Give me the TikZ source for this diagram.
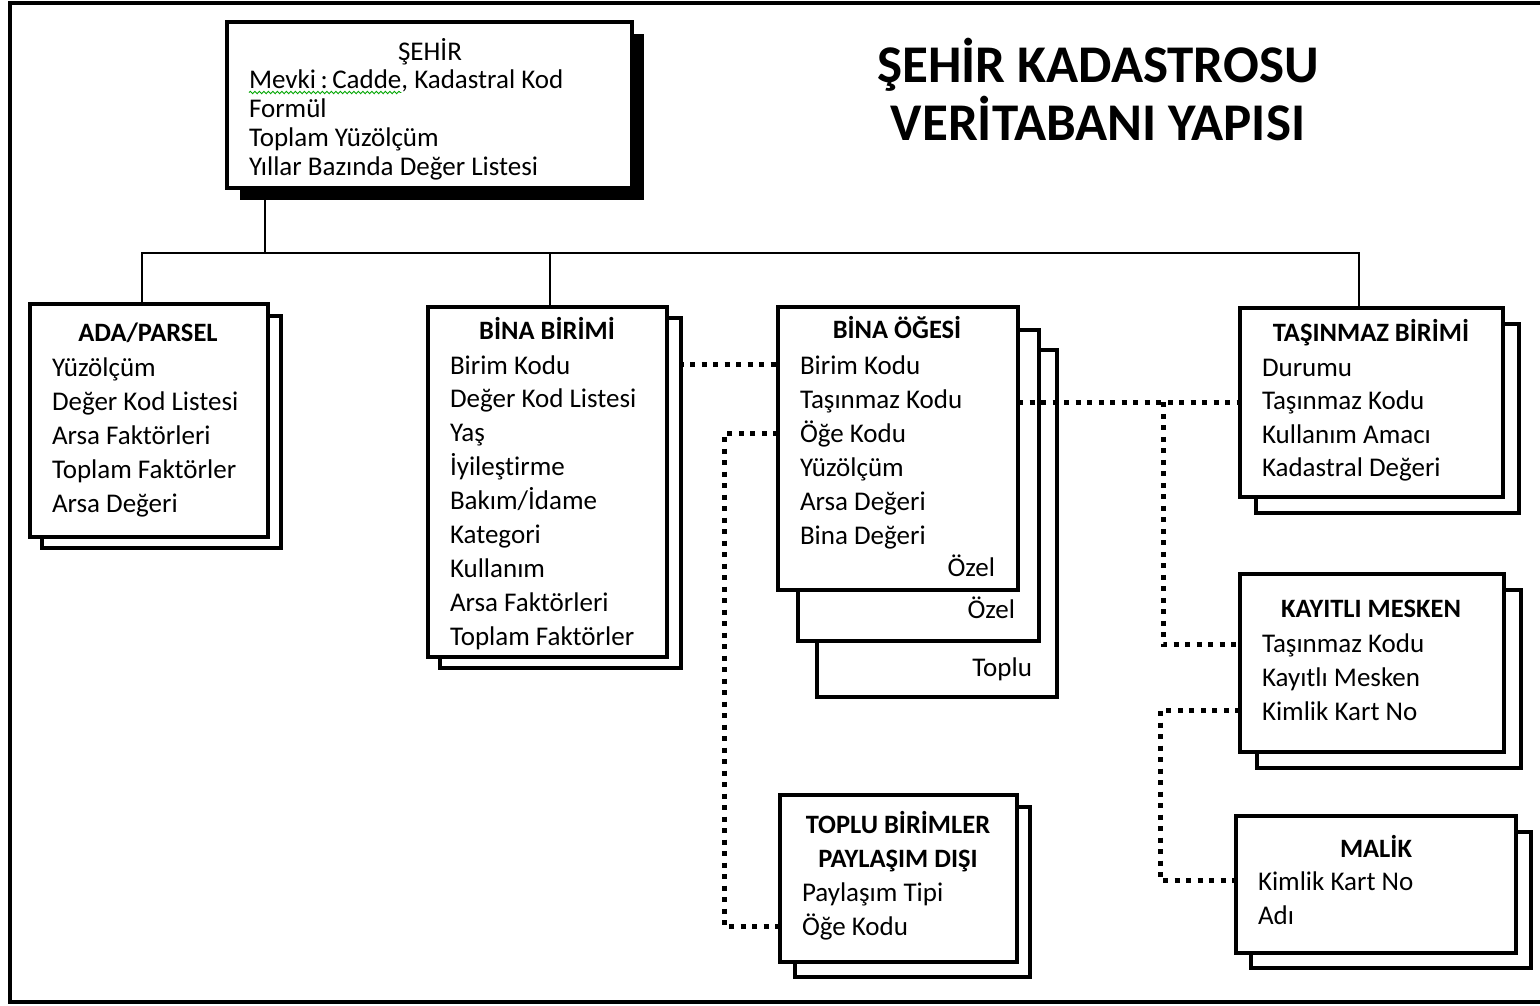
\documentclass[tikz,border=0pt]{standalone}
\usepackage{fontspec}
\setmainfont[Ligatures=NoCommon]{Carlito}
\frenchspacing
\usetikzlibrary{calc,decorations.pathmorphing}
\pgfdeclarelayer{links}
\pgfdeclarelayer{sheets}
\pgfdeclarelayer{overs}
\pgfsetlayers{links,sheets,overs,main}

\begin{document}
\begin{tikzpicture}[x=1pt,y=-1pt,
  box/.style={draw, line width=4pt, fill=white, inner sep=0pt, outer sep=0pt, anchor=north west},
  sheet/.style={draw, line width=4pt, fill=white},
  item/.style={anchor=base west, inner sep=0pt, outer sep=0pt, font=\fontsize{27}{31}\selectfont},
  head/.style={anchor=base, inner sep=0pt, outer sep=0pt, font=\bfseries\fontsize{26.5}{31}\selectfont},
  tag/.style={anchor=base east, inner sep=0pt, outer sep=0pt, font=\fontsize{27}{31}\selectfont},
  tree/.style={line width=2.6pt, line cap=rect},
  dots/.style={line width=5pt, dash pattern=on 5pt off 6.5pt},
]
\useasboundingbox (0,0) rectangle (1540,1005);
\clip (0,0) rectangle (1540,1005);

% outer frame
\draw[line width=3.5pt] (10,3) rectangle (1590,1002);

% title
\node[anchor=base, font=\bfseries\fontsize{53}{60}\selectfont] (title1) at (1098,82) {ŞEHİR KADASTROSU};
\node[anchor=base, font=\bfseries\fontsize{53}{60}\selectfont] (title2) at (1098,140) {VERİTABANI YAPISI};

% city box
\node[box, minimum width=405pt, minimum height=166pt] (sehir) at (227,22) {};
\node[head, font=\fontsize{27}{31}\selectfont] (sehir-h) at (430,60) {ŞEHİR};
\node[item] (sehir-0a) at (249,88) {Mevki\,:\,Cadde};
\node[item] (sehir-0b) at (sehir-0a.base east) {, Kadastral Kod};
\foreach \txt [count=\i] in {Formül, Toplam Yüzölçüm, Yıllar Bazında Değer Listesi}
  \node[item] (sehir-\i) at (249,{88+29.3*\i}) {\txt};
\draw[green!65!black, line width=0.9pt, decorate,
      decoration={snake, amplitude=1.2pt, segment length=4.5pt}]
  ([yshift=-4.5pt]sehir-0a.base west) -- ([yshift=-4.5pt]sehir-0a.base east);

% parcel
\node[box, minimum width=238pt, minimum height=233pt] (ada) at (30,304) {};
\node[head] (ada-h) at (148,341) {ADA/PARSEL};
\foreach \txt [count=\i from 0] in {Yüzölçüm, Değer Kod Listesi, Arsa Faktörleri, Toplam Faktörler, Arsa Değeri}
  \node[item] (ada-\i) at (52,{376+34*\i}) {\txt};

% building unit
\node[box, minimum width=239pt, minimum height=350pt] (bb) at (428,307) {};
\node[head] (bb-h) at (547,339) {BİNA BİRİMİ};
\foreach \txt [count=\i from 0] in {Birim Kodu, Değer Kod Listesi, Yaş, İyileştirme, Bakım/İdame, Kategori, Kullanım, Arsa Faktörleri, Toplam Faktörler}
  \node[item] (bb-\i) at (450,{374+33.9*\i}) {\txt};

% building element
\node[box, minimum width=240pt, minimum height=283pt] (boe) at (778,307) {};
\node[head] (boe-h) at (897,338) {BİNA ÖĞESİ};
\foreach \txt [count=\i from 0] in {Birim Kodu, Taşınmaz Kodu, Öğe Kodu, Yüzölçüm, Arsa Değeri, Bina Değeri}
  \node[item] (boe-\i) at (800,{374+34*\i}) {\txt};
\node[tag] (boe-t0) at (995,576) {Özel};
\node[tag] (boe-t1) at (1015,618) {Özel};
\node[tag] (boe-t2) at (1032,676) {Toplu};

% property unit
\node[box, minimum width=263pt, minimum height=189pt] (tb) at (1240,308) {};
\node[head] (tb-h) at (1371,341) {TAŞINMAZ BİRİMİ};
\foreach \txt [count=\i from 0] in {Durumu, Taşınmaz Kodu, Kullanım Amacı, Kadastral Değeri}
  \node[item] (tb-\i) at (1262,{376+33.5*\i}) {\txt};

% registered residence
\node[box, minimum width=264pt, minimum height=178pt] (km) at (1240,574) {};
\node[head] (km-h) at (1371,617) {KAYITLI MESKEN};
\foreach \txt [count=\i from 0] in {Taşınmaz Kodu, Kayıtlı Mesken, Kimlik Kart No}
  \node[item] (km-\i) at (1262,{652+34*\i}) {\txt};

% owner
\node[box, minimum width=280pt, minimum height=137pt] (ml) at (1236,816) {};
\node[head] (ml-h) at (1376,857) {MALİK};
\foreach \txt [count=\i from 0] in {Kimlik Kart No, Adı}
  \node[item] (ml-\i) at (1258,{890+34*\i}) {\txt};

% shared units
\node[box, minimum width=237pt, minimum height=167pt] (tp) at (780,795) {};
\node[head] (tp-h1) at (898,833) {TOPLU BİRİMLER};
\node[head] (tp-h2) at (898,867) {PAYLAŞIM DIŞI};
\foreach \txt [count=\i from 0] in {Paylaşım Tipi, Öğe Kodu}
  \node[item] (tp-\i) at (802,{901+34*\i}) {\txt};

% stacked sheets and shadow behind the boxes
\begin{pgfonlayer}{sheets}
  \fill ($(sehir.north west)+(13,12)$) rectangle ($(sehir.south east)+(12,12)$);
  \draw[sheet] ($(ada.north west)+(12,12)$) rectangle ($(ada.south east)+(13,11)$);
  \draw[sheet] ($(bb.north west)+(12,11)$) rectangle ($(bb.south east)+(14,11)$);
  \draw[sheet] ($(boe.north west)+(39,43)$) rectangle ($(boe.south east)+(39,107)$);
  \draw[sheet] ($(boe.north west)+(20,23)$) rectangle ($(boe.south east)+(21,51)$);
  \draw[sheet] ($(tb.north west)+(16,16)$) rectangle ($(tb.south east)+(16,16)$);
  \draw[sheet] ($(km.north west)+(17,16)$) rectangle ($(km.south east)+(17,16)$);
  \draw[sheet] ($(ml.north west)+(15,16)$) rectangle ($(ml.south east)+(15,15)$);
  \draw[sheet] ($(tp.north west)+(15,12)$) rectangle ($(tp.south east)+(13,15)$);
\end{pgfonlayer}

% hierarchy
\coordinate (hub) at (265,253);
\coordinate (hubL) at (142,253);
\coordinate (hubB) at (550,253);
\coordinate (hubR) at (1359,253);
% dotted link corners
\coordinate (cTB) at (1163,0);
\coordinate (cKM) at (1160,0);
\coordinate (cTP) at (724,0);

\begin{pgfonlayer}{links}
  \draw[tree] (hub |- sehir.south) -- (hub);
  \draw[tree] (hubL) -- (hubR);
  \draw[tree] (hubL) -- (hubL |- ada.north);
  \draw[tree] (hubB) -- (hubB |- bb.north);
  \draw[tree] (hubR) -- (hubR |- tb.north);
  \draw[dots] (bb.east |- boe-0.west) -- (boe.west |- boe-0.west);
  \draw[dots] (boe.west |- boe-2.west) -- (cTP |- boe-2.west) -- (cTP |- tp-1.west) -- (tp.west |- tp-1.west);
  \draw[dots] (km.west |- km-2.west) -- (cKM |- km-2.west) -- (cKM |- ml-0.west) -- (ml.west |- ml-0.west);
\end{pgfonlayer}
\begin{pgfonlayer}{overs}
  \draw[dots] (boe.east |- tb-1.west) -- (tb.west |- tb-1.west);
  \draw[dots] (cTB |- tb-1.west) -- (cTB |- km-0.west) -- (km.west |- km-0.west);
\end{pgfonlayer}
\end{tikzpicture}
\end{document}
